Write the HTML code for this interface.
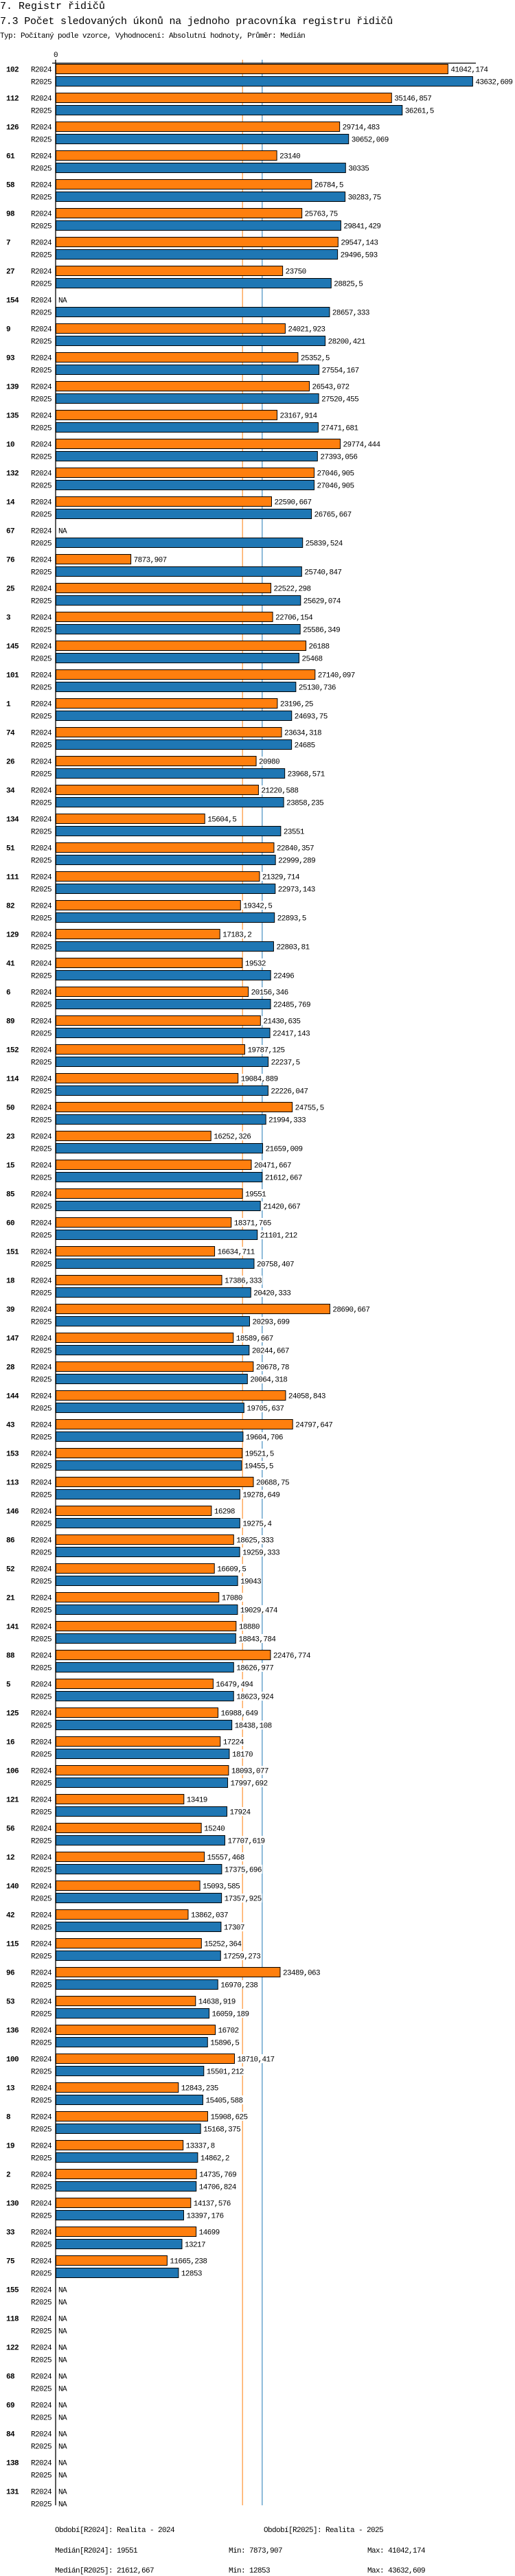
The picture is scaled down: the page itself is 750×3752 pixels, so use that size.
<!DOCTYPE html>
<html><head><meta charset="utf-8">
<style>
html,body{margin:0;padding:0;background:#fff;}
svg{display:block;}
text{font-family:"Liberation Mono",monospace;}
</style></head>
<body>
<svg id="chart" width="750" height="3752" viewBox="0 0 750 3752" xmlns="http://www.w3.org/2000/svg">
<text x="0" y="13" font-size="15" fill="#000">7. Registr řidičů</text>
<text x="0" y="35" font-size="15" letter-spacing="-0.2" fill="#000">7.3 Počet sledovaných úkonů na jednoho pracovníka registru řidičů</text>
<text x="0" y="55" font-size="11" letter-spacing="-0.6" fill="#000">Typ: Počítaný podle vzorce, Vyhodnocení: Absolutní hodnoty, Průměr: Medián</text>
<g id="plot"></g>
<g font-size="11" letter-spacing="-0.6" fill="#000">
<text x="80" y="3688">Období[R2024]: Realita - 2024</text>
<text x="384" y="3688">Období[R2025]: Realita - 2025</text>
<text x="80" y="3718">Medián[R2024]: 19551</text>
<text x="333" y="3718">Min: 7873,907</text>
<text x="535" y="3718">Max: 41042,174</text>
<text x="80" y="3747">Medián[R2025]: 21612,667</text>
<text x="333" y="3747">Min: 12853</text>
<text x="535" y="3747">Max: 43632,609</text>
</g>
</svg>
<script>
const categories = ["102","112","126","61","58","98","7","27","154","9","93","139","135","10","132","14","67","76","25","3","145","101","1","74","26","34","134","51","111","82","129","41","6","89","152","114","50","23","15","85","60","151","18","39","147","28","144","43","153","113","146","86","52","21","141","88","5","125","16","106","121","56","12","140","42","115","96","53","136","100","13","8","19","2","130","33","75","155","118","122","68","69","84","138","131"];
const seriesR2024 = [41042.174,35146.857,29714.483,23140,26784.5,25763.75,29547.143,23750,null,24021.923,25352.5,26543.072,23167.914,29774.444,27046.905,22590.667,null,7873.907,22522.298,22706.154,26188,27140.097,23196.25,23634.318,20980,21220.588,15604.5,22840.357,21329.714,19342.5,17183.2,19532,20156.346,21430.635,19787.125,19084.889,24755.5,16252.326,20471.667,19551,18371.765,16634.711,17386.333,28690.667,18589.667,20678.78,24058.843,24797.647,19521.5,20688.75,16298,18625.333,16609.5,17080,18880,22476.774,16479.494,16988.649,17224,18093.077,13419,15240,15557.468,15093.585,13862.037,15252.364,23489.063,14638.919,16702,18710.417,12843.235,15908.625,13337.8,14735.769,14137.576,14699,11665.238,null,null,null,null,null,null,null,null];
const seriesR2025 = [43632.609,36261.5,30652.069,30335,30283.75,29841.429,29496.593,28825.5,28657.333,28200.421,27554.167,27520.455,27471.681,27393.056,27046.905,26765.667,25839.524,25740.847,25629.074,25586.349,25468,25130.736,24693.75,24685,23968.571,23858.235,23551,22999.289,22973.143,22893.5,22803.81,22496,22485.769,22417.143,22237.5,22226.047,21994.333,21659.009,21612.667,21420.667,21101.212,20758.407,20420.333,20293.699,20244.667,20064.318,19705.637,19604.706,19455.5,19278.649,19275.4,19259.333,19043,19029.474,18843.784,18626.977,18623.924,18438.108,18170,17997.692,17924,17707.619,17375.696,17357.925,17307,17259.273,16970.238,16059.189,15896.5,15501.212,15405.588,15168.375,14862.2,14706.824,13397.176,13217,12853,null,null,null,null,null,null,null,null];
const medians = [19551, 21612.667];
const seriesNames = ["R2024","R2025"];
const tickLabels = ["0"];

const NS = "http://www.w3.org/2000/svg";
const plot = document.getElementById('plot');
const X0 = 81, K = 607.4 / 43632.609;
function xScale(v){ return X0 + v * K; }
function yGroup(i){ return 93 + 42 * i; }
function mk(tag, attrs, parent){
  const e = document.createElementNS(NS, tag);
  for (const k in attrs) e.setAttribute(k, attrs[k]);
  (parent || plot).appendChild(e);
  return e;
}
function fmt(v){ return String(v).replace('.', ','); }
const colors = ["#ff7f0e", "#1f77b4"];
const bottom = yGroup(categories.length) - 14;

// median lines
medians.forEach((m, s) => {
  const l = mk('line', {x1: xScale(m), x2: xScale(m), y1: 87, y2: bottom, stroke: colors[s], 'stroke-width': 1});
  
  
});

// tick label
const t0 = mk('text', {x: xScale(0), y: 83, 'font-size': 11, 'text-anchor': 'middle', 'letter-spacing': '-0.6'});
t0.textContent = tickLabels[0];



const series = [seriesR2024, seriesR2025];
categories.forEach((c, i) => {
  const y = yGroup(i);
  const g = mk('g', {});
  
  
  const gl = mk('text', {x: 9, y: y + 11.5, 'font-size': 11, 'font-weight': 'bold', 'letter-spacing': '-0.6'}, g);
  gl.textContent = c;
  
  
  series.forEach((arr, s) => {
    const by = y + s * 18;
    const sl = mk('text', {x: 75, y: by + 11.5, 'font-size': 11, 'text-anchor': 'end', 'letter-spacing': '-0.6'}, g);
    sl.textContent = seriesNames[s];
    
    
    const v = arr[i];
    if (v === null) {
      const na = mk('text', {x: 85, y: by + 11.5, 'font-size': 11, 'letter-spacing': '-0.6'}, g);
      na.textContent = 'NA';
      
      
      return;
    }
    const xe = xScale(v);
    const r = mk('rect', {x: X0 + 0.5, y: by + 0.5, width: xe - X0 - 0.5, height: 14, fill: colors[s], stroke: '#000', 'stroke-width': 1}, g);
    
    
    const txt = fmt(v);
    const bg = mk('rect', {x: xe + 2, y: by + 1, width: txt.length * 6 + 3, height: 13, fill: '#fff'}, g);
    
    
    const vl = mk('text', {x: xe + 4, y: by + 11.5, 'font-size': 11, 'letter-spacing': '-0.6'}, g);
    vl.textContent = txt;
    
    
  });
});

// axes
const ax = mk('line', {x1: 76, x2: 693, y1: 92, y2: 92, stroke: '#000', 'stroke-width': 1.3});


const ay = mk('line', {x1: X0, x2: X0, y1: 87, y2: bottom, stroke: '#000', 'stroke-width': 1.3});


</script>
</body></html>
